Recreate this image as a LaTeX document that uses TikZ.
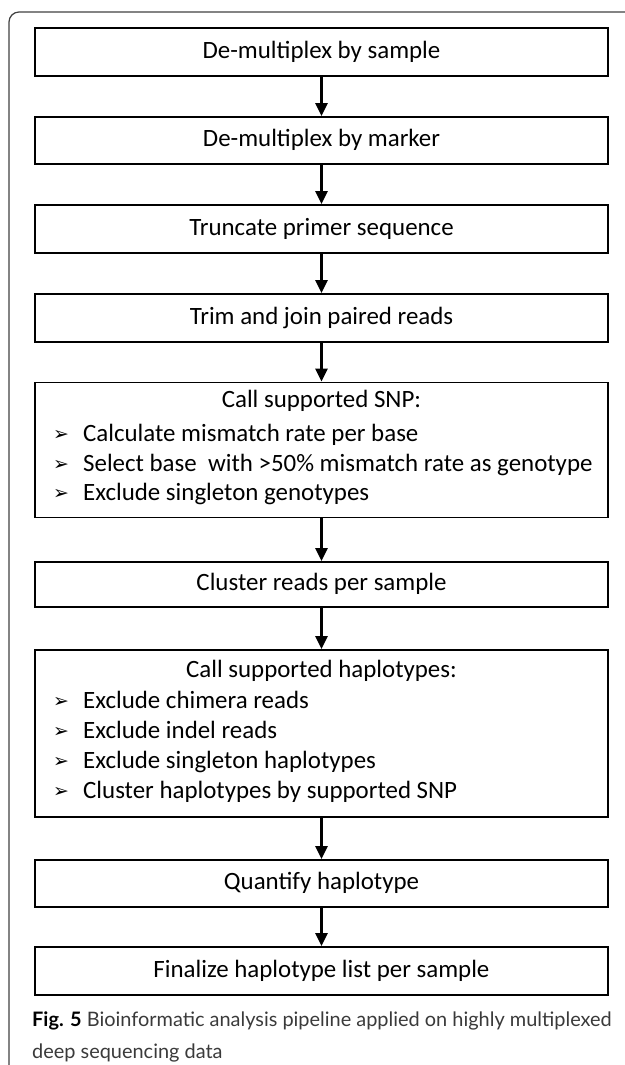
\documentclass[tikz,border=0pt]{standalone}
\usepackage{fontspec}
\setmainfont{Carlito}
\newfontfamily\arrowfont{DejaVu Sans}
\newfontfamily\capfont{Lato}
\usetikzlibrary{arrows.meta}
\definecolor{capgray}{HTML}{3a3a3a}
\begin{document}
\begin{tikzpicture}[x=1bp,y=-1bp,
  box/.style={draw=black, line width=1.8bp, minimum width=573bp, inner sep=0pt,
    font=\fontsize{25}{29}\selectfont, text height=17bp, text depth=5bp},
  flow/.style={line width=2.8bp, -{Triangle[length=13bp,width=12bp]}},
  lbl/.style={font=\fontsize{25}{29}\selectfont, inner sep=0pt, text height=17bp, text depth=5bp},
  item/.style={lbl, anchor=west},
  bul/.style={font=\arrowfont\fontsize{19}{22}\selectfont, inner sep=0pt},
  captext/.style={anchor=west, inner sep=0pt, font=\capfont\fontsize{20}{23}\selectfont, text=capgray, text height=14bp, text depth=4bp}
]
\useasboundingbox (0,0) rectangle (625,1065);
\begin{scope}
\clip (0,0) rectangle (625,1065);
\draw[line width=1.2bp, black!75, rounded corners=10bp] (640,12) -- (9,12) -- (9,1075) -- (40,1075);
\end{scope}

\node[box, minimum height=48bp] (b1) at (321.5,52) {De-multiplex by sample};
\node[box, minimum height=47bp] (b2) at (321.5,140.5) {De-multiplex by marker};
\node[box, minimum height=48bp] (b3) at (321.5,229) {Truncate primer sequence};
\node[box, minimum height=48bp] (b4) at (321.5,318) {Trim and join paired reads};
\node[box, minimum height=135bp] (b5) at (321.5,450) {};
\node[lbl] (b5t) at (321.5,401) {Call supported SNP:};
\node[bul] (b5a) at (61,435) {➢};
\node[item] (b5at) at (83,435) {Calculate mismatch rate per base};
\node[bul] (b5b) at (61,465) {➢};
\node[item] (b5bt) at (83,465) {Select base\ \ with >50\% mismatch rate as genotype};
\node[bul] (b5c) at (61,494) {➢};
\node[item] (b5ct) at (83,494) {Exclude singleton genotypes};
\node[box, minimum height=45bp] (b6) at (321.5,584.5) {Cluster reads per sample};
\node[box, minimum height=167bp] (b7) at (321.5,733.5) {};
\node[lbl] (b7t) at (321.5,671) {Call supported haplotypes:};
\node[bul] (b7a) at (61,702) {➢};
\node[item] (b7at) at (83,702) {Exclude chimera reads};
\node[bul] (b7b) at (61,732) {➢};
\node[item] (b7bt) at (83,732) {Exclude indel reads};
\node[bul] (b7c) at (61,762) {➢};
\node[item] (b7ct) at (83,762) {Exclude singleton haplotypes};
\node[bul] (b7d) at (61,792) {➢};
\node[item] (b7dt) at (83,792) {Cluster haplotypes by supported SNP};
\node[box, minimum height=47bp] (b8) at (321.5,883.5) {Quantify haplotype};
\node[box, minimum height=48bp] (b9) at (321.5,971) {Finalize haplotype list per sample};

\draw[flow] (b1.south) -- (b2.north);
\draw[flow] (b2.south) -- (b3.north);
\draw[flow] (b3.south) -- (b4.north);
\draw[flow] (b4.south) -- (b5.north);
\draw[flow] (b5.south) -- (b6.north);
\draw[flow] (b6.south) -- (b7.north);
\draw[flow] (b7.south) -- (b8.north);
\draw[flow] (b8.south) -- (b9.north);

\node[captext] (c1) at (32,1021) {{\color{black}\bfseries Fig. 5} Bioinformatic analysis pipeline applied on highly multiplexed};
\node[captext] (c2) at (32,1053) {deep sequencing data};
\end{tikzpicture}
\end{document}
